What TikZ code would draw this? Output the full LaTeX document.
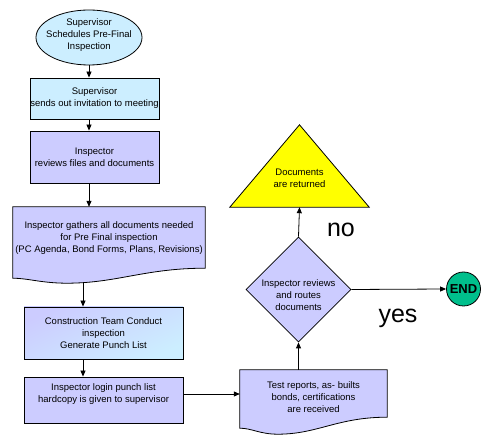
\documentclass[tikz,border=0pt]{standalone}
\usepackage{fontspec}
\setmainfont{Liberation Sans}
\usetikzlibrary{shapes.geometric,arrows.meta,calc}
\definecolor{lcyan}{HTML}{CCEEFF}
\definecolor{lav}{HTML}{CCCCFF}
\definecolor{yel}{HTML}{FFFF00}
\definecolor{endgreen}{HTML}{00BF8C}
\begin{document}
\begin{tikzpicture}[x=1pt,y=-1pt,
  every node/.style={font=\fontsize{9.5}{12}\selectfont, align=center, inner sep=0pt},
  box/.style={draw, line width=0.8pt, rectangle},
  shp/.style={draw, line width=0.8pt},
  arr/.style={-{Triangle[length=6pt,width=5pt]}, line width=0.8pt},
  big/.style={font=\fontsize{25}{28}\selectfont}]
\useasboundingbox (0,0) rectangle (488,438);
% start ellipse
\node[ellipse, shp, fill=lcyan, minimum width=106pt, minimum height=55pt] (e1) at (89,37.5) {};
\node (e1t) at (89,35) {Supervisor\\Schedules Pre-Final\\Inspection};
% boxes
\node[box, fill=lcyan, minimum width=129pt, minimum height=41pt] (b2) at (94.5,98.5) {Supervisor\\sends out invitation to meeting};
\node[box, fill=lav, minimum width=129pt, minimum height=52pt] (b3) at (94.5,157) {Inspector\\reviews files and documents};
% document 1
\node[minimum width=192pt, minimum height=61pt] (d1) at (109,237.5) {};
\draw[shp, fill=lav] (d1.north west) -- (d1.north east) -- (d1.south east)
  .. controls +(-60,0) and +(50,0) .. ($(d1.south west)+(54,15)$)
  .. controls +(-25,0) and +(15,0) .. ($(d1.south west)+(0,10)$) -- cycle;
\node (d1t) at (109,238) {Inspector gathers all documents needed\\for Pre Final inspection\\(PC Agenda, Bond Forms, Plans, Revisions)};
% shaded box
\node[box, top color=lav, bottom color=lcyan, shading angle=25, minimum width=159pt, minimum height=52pt] (b5) at (103.5,333) {Construction Team Conduct\\inspection\\Generate Punch List};
\node[box, fill=lav, minimum width=159pt, minimum height=46pt] (b6) at (103.5,400) {};
\node (b6t) at (103.5,394) {Inspector login punch list\\hardcopy is given to supervisor};
% document 2
\node[minimum width=147pt, minimum height=47pt] (d2) at (313.5,393.5) {};
\draw[shp, fill=lav] (d2.north west) -- (d2.north east) -- (d2.south east)
  .. controls +(-50,0) and +(40,0) .. ($(d2.south west)+(38,17)$)
  .. controls +(-18,0) and +(12,0) .. ($(d2.south west)+(0,11)$) -- cycle;
\node (d2t) at (313.5,397) {Test reports, as- builts\\bonds, certifications\\are received};
% diamond
\node[diamond, shp, fill=lav, minimum width=105pt, minimum height=105pt] (dia) at (298.5,289.5) {};
\node (diat) at (298.5,295) {Inspector reviews\\and routes\\documents};
% triangle
\node[minimum width=139pt, minimum height=82pt] (tri) at (299.5,166) {};
\draw[shp, fill=yel] (tri.south west) -- (tri.north) -- (tri.south east) -- cycle;
\node (trit) at (299.5,178.5) {Documents\\are returned};
% end
\node[circle, shp, fill=endgreen, minimum size=34pt, font=\bfseries\fontsize{13}{14}\selectfont] (end) at (463.5,289) {END};
% labels
\node[big, anchor=base] (no) at (341,237) {no};
\node[big, anchor=base] (yes) at (398,323) {yes};
% connectors
\coordinate (cx) at (83,0);
\draw[arr] (e1.south) -- (e1.south |- b2.north);
\draw[arr] (b2.south -| e1.south) -- (b3.north -| e1.south);
\draw[arr] (b3.south -| e1.south) -- (d1.north -| e1.south);
\draw[arr] ($(d1.south -| cx)+(0,14.5)$) -- (b5.north -| cx);
\draw[arr] (b5.south -| cx) -- (b6.north -| cx);
\draw[arr] (b6.east |- b6t) -- (d2.west |- b6t);
\draw[arr] (dia.south |- d2.north) -- (dia.south);
\draw[arr] (dia.north) -- (tri.south);
\draw[arr] (dia.east) -- (end.west);
\end{tikzpicture}
\end{document}
